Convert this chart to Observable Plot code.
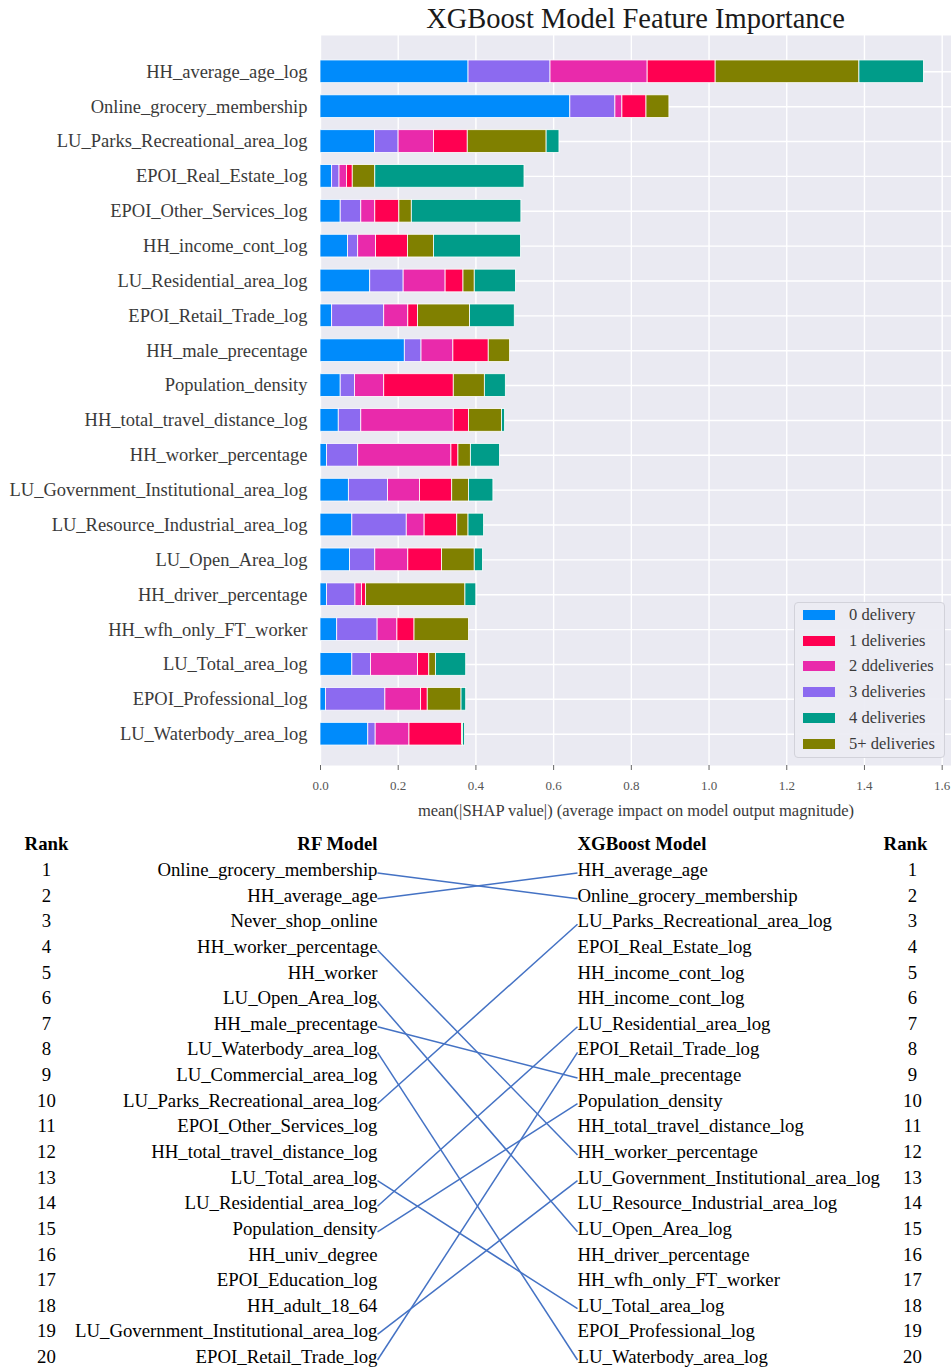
<!DOCTYPE html>
<html><head><meta charset="utf-8">
<script src="https://cdn.jsdelivr.net/npm/d3@7"></script>
<script src="https://cdn.jsdelivr.net/npm/@observablehq/plot@0.6"></script>
<style>
body{margin:0;background:#fff;font-family:"Liberation Serif","Times New Roman",serif;}
#wrap{position:relative;width:951px;}
#title{height:35px;margin-left:320px;width:631px;text-align:center;font-size:28.5px;line-height:38px;color:#1a1a1a;overflow:visible;white-space:nowrap;}
#legend{position:absolute;left:794px;top:602px;width:151px;height:156px;box-sizing:border-box;border:1px solid #d2d2da;border-radius:4px;background:rgba(236,236,243,0.92);}
.li{position:absolute;left:0;width:100%;height:20px;display:flex;align-items:center;font-size:16.5px;color:#3a3a3a;}
.sw{display:inline-block;width:32px;height:10px;margin-left:8px;margin-right:14px;}
svg{display:block;}
</style>
</head><body>
<div id="wrap">
  <div id="title">XGBoost Model Feature Importance</div>
  <div id="chart"></div>
  <div id="table"></div>
  <div id="legend"></div>
</div>
<script>
// ---------- Top chart data ----------
const features = [
  "HH_average_age_log","Online_grocery_membership","LU_Parks_Recreational_area_log","EPOI_Real_Estate_log",
  "EPOI_Other_Services_log","HH_income_cont_log","LU_Residential_area_log","EPOI_Retail_Trade_log",
  "HH_male_precentage","Population_density","HH_total_travel_distance_log","HH_worker_percentage",
  "LU_Government_Institutional_area_log","LU_Resource_Industrial_area_log","LU_Open_Area_log","HH_driver_percentage",
  "HH_wfh_only_FT_worker","LU_Total_area_log","EPOI_Professional_log","LU_Waterbody_area_log"
];
const classNames = ["0 delivery","1 deliveries","2 ddeliveries","3 deliveries","4 deliveries","5+ deliveries"];
const classColors = ["#008bfb","#ff0051","#e92aab","#8c6af0","#009c89","#808000"];
// mean |SHAP| per class, in feature order
const delivery0 = [0.381,0.643,0.140,0.030,0.052,0.071,0.128,0.030,0.217,0.052,0.047,0.017,0.073,0.082,0.076,0.017,0.043,0.082,0.014,0.123];
const delivery1 = [0.175,0.062,0.087,0.015,0.062,0.082,0.046,0.025,0.091,0.179,0.039,0.018,0.083,0.084,0.087,0.010,0.044,0.029,0.017,0.135];
const delivery2 = [0.250,0.018,0.091,0.019,0.036,0.046,0.108,0.062,0.082,0.075,0.238,0.240,0.082,0.046,0.085,0.017,0.051,0.121,0.092,0.087];
const delivery3 = [0.211,0.116,0.061,0.019,0.053,0.026,0.086,0.134,0.043,0.037,0.058,0.080,0.101,0.140,0.065,0.073,0.104,0.048,0.153,0.019];
const delivery4 = [0.166,0.000,0.033,0.384,0.282,0.224,0.106,0.115,0.000,0.054,0.008,0.075,0.063,0.040,0.021,0.028,0.000,0.078,0.012,0.005];
const delivery5 = [0.370,0.059,0.203,0.058,0.032,0.067,0.029,0.134,0.055,0.080,0.085,0.032,0.043,0.029,0.084,0.256,0.140,0.017,0.087,0.003];
const series = [delivery0, delivery1, delivery2, delivery3, delivery4, delivery5];
const stackOrder = [0, 3, 2, 1, 5, 4];
const xTicks = [0,0.2,0.4,0.6,0.8,1.0,1.2,1.4,1.6];

// ---------- Bottom table data ----------
const ranks = [1,2,3,4,5,6,7,8,9,10,11,12,13,14,15,16,17,18,19,20];
const rfNames = [
  "Online_grocery_membership","HH_average_age","Never_shop_online","HH_worker_percentage","HH_worker",
  "LU_Open_Area_log","HH_male_precentage","LU_Waterbody_area_log","LU_Commercial_area_log","LU_Parks_Recreational_area_log",
  "EPOI_Other_Services_log","HH_total_travel_distance_log","LU_Total_area_log","LU_Residential_area_log","Population_density",
  "HH_univ_degree","EPOI_Education_log","HH_adult_18_64","LU_Government_Institutional_area_log","EPOI_Retail_Trade_log"
];
const xgbNames = [
  "HH_average_age","Online_grocery_membership","LU_Parks_Recreational_area_log","EPOI_Real_Estate_log","HH_income_cont_log",
  "HH_income_cont_log","LU_Residential_area_log","EPOI_Retail_Trade_log","HH_male_precentage","Population_density",
  "HH_total_travel_distance_log","HH_worker_percentage","LU_Government_Institutional_area_log","LU_Resource_Industrial_area_log","LU_Open_Area_log",
  "HH_driver_percentage","HH_wfh_only_FT_worker","LU_Total_area_log","EPOI_Professional_log","LU_Waterbody_area_log"
];
// [RF rank, XGBoost rank]
const links = [[1,2],[2,1],[4,12],[6,15],[7,9],[8,20],[10,3],[13,18],[14,7],[15,10],[19,13],[20,8]];
const headerRank = "Rank", headerRF = "RF Model", headerXGB = "XGBoost Model";

const serif = '"Liberation Serif","Times New Roman",serif';

// ---------- Build top chart ----------
const rows = [];
features.forEach((f, i) => stackOrder.forEach(k => {
  const v = series[k][i];
  if (v > 0) rows.push({feature: f, cls: classNames[k], value: v});
}));

const chart = Plot.plot({
  width: 951, height: 786,
  marginTop: 0, marginBottom: 56, marginLeft: 320, marginRight: 0,
  style: {fontFamily: serif, background: "transparent", color: "#3a3a3a"},
  x: {domain: [0, 1.624]},
  y: {type: "band", domain: features, range: [12.8, 722.2], padding: 0.349, round: false},
  color: {domain: classNames, range: classColors},
  marks: [
    Plot.frame({fill: "#eaeaf2", stroke: "none"}),
    Plot.gridX(xTicks, {stroke: "white", strokeOpacity: 1, strokeWidth: 1.4}),
    Plot.gridY({stroke: "white", strokeOpacity: 1, strokeWidth: 1.4}),
    Plot.barX(rows, Plot.stackX({y: "feature", x: "value", fill: "cls", stroke: "white", strokeWidth: 0.8, order: null})),
    Plot.axisY({tickSize: 0, tickPadding: 13, fontSize: 18.5, label: null}),
    Plot.axisX(xTicks, {tickFormat: d3.format(".1f"), tickSize: 5, tickPadding: 10, fontSize: 13,
      label: "mean(|SHAP value|) (average impact on model output magnitude)", labelAnchor: "center", labelArrow: "none", labelOffset: 50})
  ]
});
document.getElementById("chart").appendChild(chart);
d3.select(chart).selectAll('[aria-label="x-axis label"] text').attr("font-size", 16.5).attr("fill", "#3a3a3a");
d3.select(chart).selectAll('[aria-label="x-axis tick label"] text').attr("fill", "#555");
d3.select(chart).selectAll('[aria-label="x-axis tick"] path').attr("stroke", "#666");

// ---------- Legend ----------
const legend = d3.select("#legend");
classNames.forEach((c, i) => {
  const item = legend.append("div").attr("class", "li").style("top", (2 + i * 25.7) + "px");
  item.append("span").attr("class", "sw").style("background", classColors[i]);
  item.append("span").text(c);
});

// ---------- Bottom table ----------
const colX = {rankL: 46, rf: 377, xgb: 577, rankR: 912, rankRHead: 905};
const fs = 18.8;
const table = Plot.plot({
  width: 951, height: 548, margin: 0,
  style: {fontFamily: serif, background: "transparent", color: "#000"},
  x: {domain: [0, 951], range: [0, 951], axis: null},
  y: {domain: [0, 20], range: [25.9, 538.5], axis: null},
  marks: [
    Plot.link(links, {x1: () => colX.rf, y1: d => d[0], x2: () => colX.xgb, y2: d => d[1], stroke: "#4472c4", strokeWidth: 1.5}),
    Plot.text([headerRank], {x: () => colX.rankL, y: () => 0, text: d => d, textAnchor: "middle", fontWeight: "bold", fontSize: fs, dy: -3}),
    Plot.text([headerRF], {x: () => colX.rf, y: () => 0, text: d => d, textAnchor: "end", fontWeight: "bold", fontSize: fs, dy: -3}),
    Plot.text([headerXGB], {x: () => colX.xgb, y: () => 0, text: d => d, textAnchor: "start", fontWeight: "bold", fontSize: fs, dy: -3}),
    Plot.text([headerRank], {x: () => colX.rankRHead, y: () => 0, text: d => d, textAnchor: "middle", fontWeight: "bold", fontSize: fs, dy: -3}),
    Plot.text(ranks, {x: () => colX.rankL, y: d => d, text: d => String(d), fontSize: fs, dy: -3}),
    Plot.text(ranks, {x: () => colX.rankR, y: d => d, text: d => String(d), fontSize: fs, dy: -3}),
    Plot.text(rfNames, {x: () => colX.rf, y: (d, i) => ranks[i], text: d => d, textAnchor: "end", fontSize: fs, dy: -3}),
    Plot.text(xgbNames, {x: () => colX.xgb, y: (d, i) => ranks[i], text: d => d, textAnchor: "start", fontSize: fs, dy: -3})
  ]
});
document.getElementById("table").appendChild(table);
</script>
</body></html>
